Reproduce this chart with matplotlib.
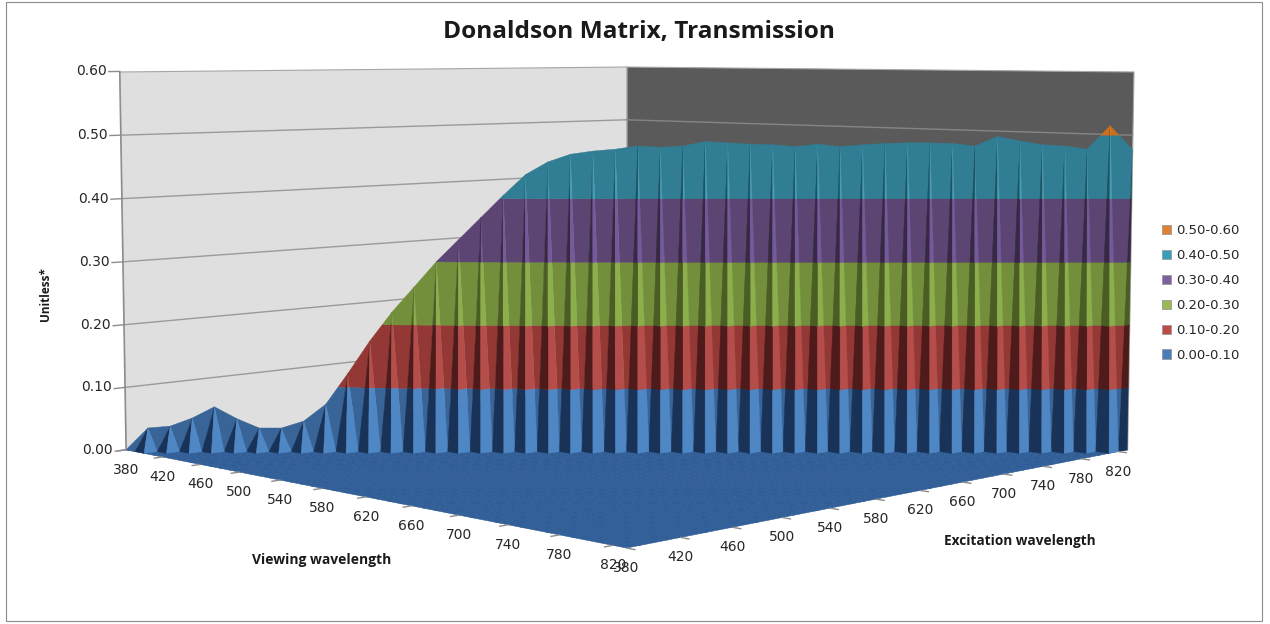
import numpy as np
import matplotlib
matplotlib.use("Agg")
import matplotlib.pyplot as plt
from matplotlib.patches import Patch, Rectangle
from mpl_toolkits.mplot3d import proj3d
from mpl_toolkits.mplot3d.art3d import Poly3DCollection

# wavelength grid, nm
wavelengths = np.arange(380, 840, 10)

# transmission along the diagonal of the matrix
transmission = [
    0.000, 0.035, 0.038, 0.051, 0.069, 0.050, 0.035, 0.035, 0.046, 0.073,
    0.122, 0.174, 0.220, 0.260, 0.300, 0.335, 0.370, 0.405, 0.438, 0.458,
    0.470, 0.475, 0.478, 0.483, 0.481, 0.483, 0.490, 0.488, 0.486, 0.485,
    0.482, 0.486, 0.482, 0.485, 0.487, 0.488, 0.488, 0.487, 0.483, 0.498,
    0.491, 0.485, 0.483, 0.478, 0.515, 0.478,
]

z_ticks = [0.0, 0.1, 0.2, 0.3, 0.4, 0.5, 0.6]
axis_ticks = [380, 420, 460, 500, 540, 580, 620, 660, 700, 740, 780, 820]
band_labels = ["0.00-0.10", "0.10-0.20", "0.20-0.30", "0.30-0.40", "0.40-0.50", "0.50-0.60"]
legend_colors = ["#4A7EBB", "#BE4B48", "#98B954", "#7D60A0", "#36A0BC", "#E08030"]

# light / mid / dark tone of each band
band_light = ["#4F86C4", "#B54D4A", "#8CAF4C", "#76599B", "#429FB8", "#E8852B"]
band_mid = ["#386497", "#943836", "#748F3C", "#5C4473", "#317D93", "#C8701F"]
band_dark = ["#193358", "#4F1B1A", "#4A5E24", "#372945", "#1D5362", "#7A4510"]
floor_color = "#32609A"
floor_edge = "#2E5A90"


def clip_z(poly, zlo, zhi):
    # cut a flat polygon down to the slab zlo..zhi
    for level, keep_above in ((zlo, True), (zhi, False)):
        out = []
        for k in range(len(poly)):
            a = poly[k]
            b = poly[(k + 1) % len(poly)]
            ina = a[2] >= level if keep_above else a[2] <= level
            inb = b[2] >= level if keep_above else b[2] <= level
            if ina:
                out.append(a)
            if ina != inb:
                t = (level - a[2]) / (b[2] - a[2])
                out.append((a[0] + t * (b[0] - a[0]), a[1] + t * (b[1] - a[1]), level))
        poly = out
        if len(poly) < 3:
            return []
    return poly


def add_sliced(tri, tones, polys, colors):
    for b in range(len(band_labels)):
        piece = clip_z(tri, z_ticks[b], z_ticks[b + 1])
        if piece:
            polys.append(piece)
            colors.append(tones[b])


n = len(wavelengths)
Z = np.zeros((n, n))
for i in range(n):
    Z[i, i] = transmission[i]

fig = plt.figure(figsize=(12.7, 6.24), dpi=100)
fig.patch.set_facecolor("white")

# big square axes, the 3d scene is placed inside it
ax_left = -25.6 / 1270
ax_bottom = -290 / 624
ax = fig.add_axes([ax_left, ax_bottom, 1, 1270 / 624], projection="3d", computed_zorder=False)
ax.set_axis_off()
ax.set_proj_type("persp", focal_length=0.375)
ax.view_init(elev=4.9, azim=-45)
ax.set_box_aspect((1, 1, 0.533), zoom=0.823)
xmin, xmax = wavelengths[0], wavelengths[-1]
ax.set_xlim(xmin, xmax, view_margin=0)
ax.set_ylim(xmin, xmax, view_margin=0)
ax.set_zlim(0, 0.6, view_margin=0)

# walls
left_wall = [(xmin, xmin, 0), (xmin, xmax, 0), (xmin, xmax, 0.6), (xmin, xmin, 0.6)]
right_wall = [(xmin, xmax, 0), (xmax, xmax, 0), (xmax, xmax, 0.6), (xmin, xmax, 0.6)]
ax.add_collection3d(Poly3DCollection([left_wall], facecolors="#DFDFDF", edgecolors="#A6A6A6", linewidths=0.8, zorder=1))
ax.add_collection3d(Poly3DCollection([right_wall], facecolors="#5A5A5A", edgecolors="#A6A6A6", linewidths=0.8, zorder=1))

# gridlines on the walls
for z in z_ticks[1:-1]:
    ax.plot([xmin, xmin], [xmin, xmax], [z, z], color="#9A9A9A", lw=1, zorder=2)
    ax.plot([xmin, xmax], [xmax, xmax], [z, z], color="#858585", lw=1, zorder=2)

# floor cells
floor_polys = []
for i in range(n - 1):
    for j in range(n - 1):
        x0, x1 = wavelengths[i], wavelengths[i + 1]
        y0, y1 = wavelengths[j], wavelengths[j + 1]
        floor_polys.append([(x0, y0, 0), (x1, y0, 0), (x1, y1, 0), (x0, y1, 0)])
ax.add_collection3d(Poly3DCollection(floor_polys, facecolors=floor_color, edgecolors=floor_edge, linewidths=0.4, zorder=3))

# front side of the diagonal ridge
polys = []
colors = []
for i in range(n):
    apex = (wavelengths[i], wavelengths[i], Z[i, i])
    if i < n - 1:
        base = (wavelengths[i + 1], wavelengths[i], 0.0)
        next_apex = (wavelengths[i + 1], wavelengths[i + 1], Z[i + 1, i + 1])
        add_sliced([apex, base, next_apex], band_mid, polys, colors)
    if i > 0:
        foot = (wavelengths[i], wavelengths[i - 1], 0.0)
        if i < n - 1:
            corner = (wavelengths[i + 1], wavelengths[i - 1], 0.0)
            add_sliced([apex, foot, corner], band_dark, polys, colors)
            add_sliced([apex, corner, base], band_light, polys, colors)
        else:
            add_sliced([apex, foot, (wavelengths[i], wavelengths[i], 0.0)], band_dark, polys, colors)
ax.add_collection3d(Poly3DCollection(polys, facecolors=colors, edgecolors=colors, linewidths=0.3, zorder=4))

# tick marks and labels
M = ax.get_proj()
tick_color = "#8C8C8C"
label_color = "#262626"


def put_label(text, x, y, z, dx, dy, ha="center"):
    px, py, _ = proj3d.proj_transform(x, y, z, M)
    ax.annotate(text, xy=(px, py), xytext=(dx * 0.72, dy * 0.72), textcoords="offset points",
                ha=ha, va="center", fontsize=10, color=label_color, annotation_clip=False, zorder=6)


ax.plot([xmin, xmin], [xmin, xmin], [0, 0.6], color=tick_color, lw=1, zorder=5)
for z in z_ticks:
    ax.plot([xmin, xmin], [xmin, xmin - 8], [z, z], color=tick_color, lw=1, zorder=5)
    put_label(f"{z:.2f}", xmin, xmin, z, -13, 0, ha="right")

for t in axis_ticks:
    ax.plot([t, t], [xmin, xmin - 6], [0, 0], color=tick_color, lw=1, zorder=5)
    put_label(str(t), t, xmin, 0, 0, -20)
    ax.plot([xmax, xmax + 6], [t, t], [0, 0], color=tick_color, lw=1, zorder=5)
    put_label(str(t), xmax, t, 0, 0, -20)

# title and axis titles
fig.text(639 / 1270, 1 - 32 / 624, "Donaldson Matrix, Transmission", family="Open Sans", fontweight="bold",
         fontsize=17.6, color="#1A1A1A", ha="center", va="center")
fig.text(322 / 1270, 1 - 560 / 624, "Viewing wavelength", family="Open Sans", fontweight="bold",
         fontsize=10, color="#1A1A1A", ha="center", va="center")
fig.text(1020 / 1270, 1 - 541 / 624, "Excitation wavelength", family="Open Sans", fontweight="bold",
         fontsize=9.8, color="#1A1A1A", ha="center", va="center")
fig.text(46 / 1270, 1 - 294 / 624, "Unitless*", family="Open Sans", fontweight="bold",
         fontsize=8.5, color="#1A1A1A", ha="center", va="center", rotation=90)

# legend, highest band on top
handles = [Patch(facecolor=c, edgecolor="#9A9A9A", linewidth=0.6, label=l)
           for c, l in zip(legend_colors[::-1], band_labels[::-1])]
fig.legend(handles=handles, loc="center left", bbox_to_anchor=(1162 / 1270, 1 - 293 / 624), frameon=False,
           fontsize=9.5, handlelength=0.7, handleheight=0.7, handletextpad=0.4, labelspacing=0.9,
           borderpad=0, borderaxespad=0, labelcolor=label_color)

# chart frame
fig.add_artist(Rectangle((6 / 1270, 1 - 621 / 624), 1256 / 1270, 619 / 624, transform=fig.transFigure,
                         fill=False, edgecolor="#8C8C8C", linewidth=0.8))

fig.savefig("out.png", dpi=100)
